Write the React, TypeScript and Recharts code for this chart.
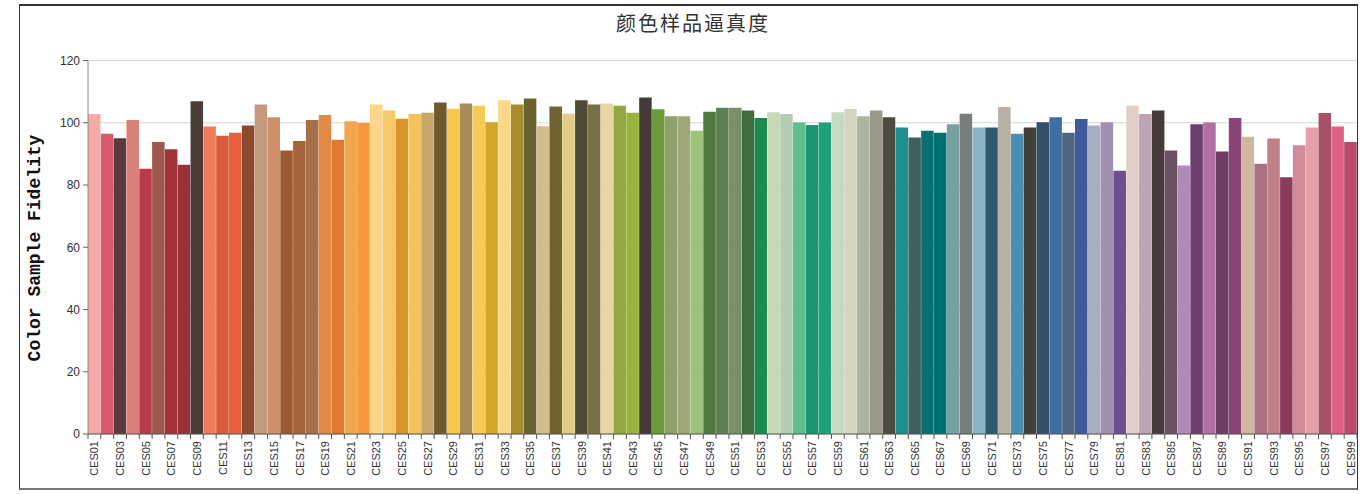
import { BarChart, Bar, XAxis, YAxis, CartesianGrid, Cell } from "recharts";

const CATEGORIES = [
  "CES01", "CES02", "CES03", "CES04", "CES05", "CES06", "CES07", "CES08", "CES09", "CES10",
  "CES11", "CES12", "CES13", "CES14", "CES15", "CES16", "CES17", "CES18", "CES19", "CES20",
  "CES21", "CES22", "CES23", "CES24", "CES25", "CES26", "CES27", "CES28", "CES29", "CES30",
  "CES31", "CES32", "CES33", "CES34", "CES35", "CES36", "CES37", "CES38", "CES39", "CES40",
  "CES41", "CES42", "CES43", "CES44", "CES45", "CES46", "CES47", "CES48", "CES49", "CES50",
  "CES51", "CES52", "CES53", "CES54", "CES55", "CES56", "CES57", "CES58", "CES59", "CES60",
  "CES61", "CES62", "CES63", "CES64", "CES65", "CES66", "CES67", "CES68", "CES69", "CES70",
  "CES71", "CES72", "CES73", "CES74", "CES75", "CES76", "CES77", "CES78", "CES79", "CES80",
  "CES81", "CES82", "CES83", "CES84", "CES85", "CES86", "CES87", "CES88", "CES89", "CES90",
  "CES91", "CES92", "CES93", "CES94", "CES95", "CES96", "CES97", "CES98", "CES99",
];

const FIDELITY = [
  102.8, 96.5, 95.0, 100.9, 85.2, 93.8, 91.5, 86.5, 106.9, 98.8,
  95.8, 96.8, 99.1, 105.9, 101.8, 91.1, 94.1, 100.9, 102.5, 94.5,
  100.5, 99.9, 105.9, 103.9, 101.3, 102.8, 103.2, 106.5, 104.5, 106.2,
  105.5, 100.2, 107.2, 105.9, 107.8, 98.9, 105.2, 102.9, 107.2, 105.9,
  106.2, 105.5, 103.2, 108.1, 104.3, 102.1, 102.1, 97.4, 103.5, 104.8,
  104.8, 103.9, 101.5, 103.4, 102.8, 100.1, 99.3, 100.1, 103.4, 104.4,
  102.1, 103.9, 101.8, 98.5, 95.3, 97.4, 96.8, 99.5, 102.9, 98.5,
  98.5, 105.1, 96.5, 98.5, 100.2, 101.8, 96.8, 101.2, 99.1, 100.2,
  84.6, 105.5, 102.8, 103.9, 91.1, 86.3, 99.5, 100.1, 90.8, 101.5,
  95.5, 86.8, 94.9, 82.5, 92.8, 98.5, 103.1, 98.8, 93.8,
];

const BAR_COLORS = [
  "#f4aaa8", "#d85a6e", "#5a3a3a", "#d98078", "#b83a4b", "#a0574e", "#a23139", "#993236", "#4a3c36", "#ee7c5b",
  "#d95b3a", "#e85f3c", "#8b4a2e", "#c49a7e", "#d08e6a", "#9c5a32", "#a5643a", "#a66e4a", "#e08a45", "#e07a2a",
  "#f2a64f", "#f39a3c", "#fad58a", "#f5c86a", "#d9952a", "#f4c25a", "#c9a66a", "#6b5a2e", "#f7c64a", "#a88c55",
  "#f5ca55", "#d4a62a", "#fad887", "#a68c2e", "#6b6030", "#d4bc8e", "#6e6230", "#e3cc85", "#4f4a36", "#7a7045",
  "#e6d5a5", "#93a83e", "#99b43a", "#433b35", "#6b9a3a", "#8fa068", "#a0a878", "#9dc27a", "#4f7a3e", "#5e8050",
  "#7a9068", "#3e6e40", "#1a8a50", "#c9d9b5", "#b2cdb0", "#5ebf8e", "#1a9670", "#21a07a", "#c5dac0", "#d5d5bf",
  "#a9b5a0", "#9a9a88", "#4e4a40", "#1e9090", "#3e6060", "#08706e", "#007070", "#7a9fa0", "#7a7e7a", "#8ab4c8",
  "#2e5a70", "#b8b0a5", "#4a8eb5", "#423e38", "#344f68", "#3f6ea5", "#4f6580", "#3e5a9a", "#a8aec0", "#a090b0",
  "#6b4f8e", "#e0cfc8", "#bba5b5", "#443b3a", "#6a5060", "#b08ab8", "#6e3e70", "#b070a0", "#703e65", "#8a4478",
  "#d0b8a0", "#a87080", "#c08088", "#8a3a5a", "#d08a9a", "#e8a0a8", "#a85068", "#e06080", "#b84a6a",
];

const Y_TICKS = [0, 20, 40, 60, 80, 100, 120];

const chartData = CATEGORIES.map((name, i) => ({ name, value: FIDELITY[i] }));

const BAND = (1357 - 88) / CATEGORIES.length;

const CategoryTick = (props: any) => {
  const { x, y, index, payload } = props;
  const left = x - BAND / 2;
  return (
    <g>
      <line x1={left} y1={y} x2={left} y2={y + 5} stroke="#555" />
      {index === CATEGORIES.length - 1 && (
        <line x1={x + BAND / 2} y1={y} x2={x + BAND / 2} y2={y + 5} stroke="#555" />
      )}
      {index % 2 === 0 && (
        <text
          x={x + 4}
          y={y + 7}
          transform={`rotate(-90, ${x + 4}, ${y + 7})`}
          textAnchor="end"
          fontSize={11}
          fontFamily="'Liberation Sans', Arial, sans-serif"
          fill="#333"
        >
          {payload.value}
        </text>
      )}
    </g>
  );
};

export default function App() {
  return (
    <div style={{ position: "absolute", left: 0, top: 0, width: 1365, height: 494, background: "#fff" }}>
      <div
        style={{
          position: "absolute",
          left: 19,
          top: 4,
          width: 1337,
          height: 482,
          borderTop: "2px solid #333",
          borderLeft: "1px solid #333",
          borderRight: "1px solid #333",
          borderBottom: "2px solid #777",
        }}
      />
      <div style={{ position: "absolute", left: 0, top: 0 }}>
        <BarChart
          width={1365}
          height={494}
          data={chartData}
          margin={{ top: 60.5, right: 8, bottom: 10, left: 28 }}
          barCategoryGap={0}
          barSize={BAND - 0.3}
        >
          <CartesianGrid horizontal vertical={false} stroke="#d6d6d6" />
          <XAxis
            dataKey="name"
            interval={0}
            height={50}
            tickLine={false}
            tickSize={0}
            tickMargin={0}
            axisLine={{ stroke: "#555" }}
            tick={<CategoryTick />}
          />
          <YAxis
            domain={[0, 120]}
            ticks={Y_TICKS}
            width={60}
            tickSize={5}
            tickMargin={3}
            tickLine={{ stroke: "#666" }}
            axisLine={{ stroke: "#888" }}
            tick={{ fill: "#333", fontSize: 12, fontFamily: "'Liberation Sans', Arial, sans-serif" }}
          />
          <Bar dataKey="value" isAnimationActive={false}>
            {chartData.map((d, i) => (
              <Cell key={d.name} fill={BAR_COLORS[i]} />
            ))}
          </Bar>
        </BarChart>
      </div>
      <svg width={1365} height={494} style={{ position: "absolute", left: 0, top: 0, pointerEvents: "none" }}>
        <text
          x={693}
          y={31}
          textAnchor="middle"
          fontSize={20}
          letterSpacing={2}
          fontFamily="'Noto Sans CJK SC', sans-serif"
          fill="#333"
        >
          颜色样品逼真度
        </text>
        <text
          x={40}
          y={248}
          transform="rotate(-90, 40, 248)"
          textAnchor="middle"
          fontSize={18}
          fontWeight="bold"
          fontFamily="'Liberation Mono', 'DejaVu Sans Mono', monospace"
          fill="#111"
        >
          Color Sample Fidelity
        </text>
      </svg>
    </div>
  );
}
